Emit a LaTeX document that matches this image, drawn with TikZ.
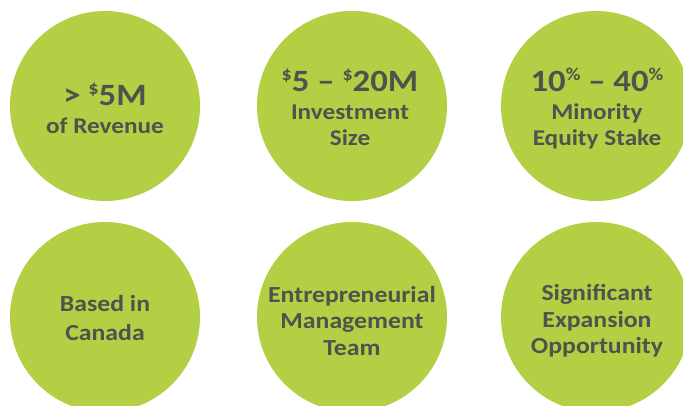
\documentclass[tikz,border=0pt]{standalone}
\usepackage{fontspec}
\setmainfont{Carlito}[FakeStretch=1.12]
\definecolor{leaf}{RGB}{179,207,68}
\definecolor{ink}{RGB}{80,82,78}
\newcommand{\upsym}[1]{\raisebox{11.5pt}{\fontsize{18}{18}\selectfont #1}}
\begin{document}
\begin{tikzpicture}[x=1pt,y=1pt,
  disc/.style={circle,fill=leaf,minimum size=190pt,inner sep=0pt},
  head/.style={anchor=base,text=ink,inner sep=0pt,font=\fontsize{31}{31}\selectfont\bfseries},
  sub/.style={anchor=base,text=ink,inner sep=0pt,font=\fontsize{22.5}{22.5}\selectfont\bfseries},
  low/.style={anchor=base,text=ink,inner sep=0pt,font=\fontsize{23}{23}\selectfont\bfseries}]
\useasboundingbox (0,0) rectangle (683,-406);
\clip (0,0) rectangle (683,-406);
% circles
\node[disc] (d1) at (105,-106) {};
\node[disc] (d2) at (352,-106) {};
\node[disc] (d3) at (596,-106) {};
\node[disc] (d4) at (105,-317) {};
\node[disc] (d5) at (352,-317) {};
\node[disc] (d6) at (596,-317) {};
% texts row 1
\node[head] (t1a) at (105,-106) {> \upsym{\$}5M};
\node[sub]  (t1b) at (105,-134) {of Revenue};
\node[head] (t2a) at (350,-92) {\upsym{\$}5 – \upsym{\$}20M};
\node[sub]  (t2b) at (350,-120) {Investment};
\node[sub]  (t2c) at (350,-146) {Size};
\node[head] (t3a) at (597,-92) {10\upsym{\%} – 40\upsym{\%}};
\node[sub]  (t3b) at (597,-120) {Minority};
\node[sub]  (t3c) at (597,-146) {Equity Stake};
% texts row 2
\node[low] (t4a) at (105,-312) {Based in};
\node[low] (t4b) at (105,-340) {Canada};
\node[low] (t5a) at (352,-302) {Entrepreneurial};
\node[low] (t5b) at (352,-328) {Management};
\node[low] (t5c) at (352,-355) {Team};
\node[low] (t6a) at (597,-300) {Significant};
\node[low] (t6b) at (597,-327) {Expansion};
\node[low] (t6c) at (597,-353) {Opportunity};
\end{tikzpicture}
\end{document}
